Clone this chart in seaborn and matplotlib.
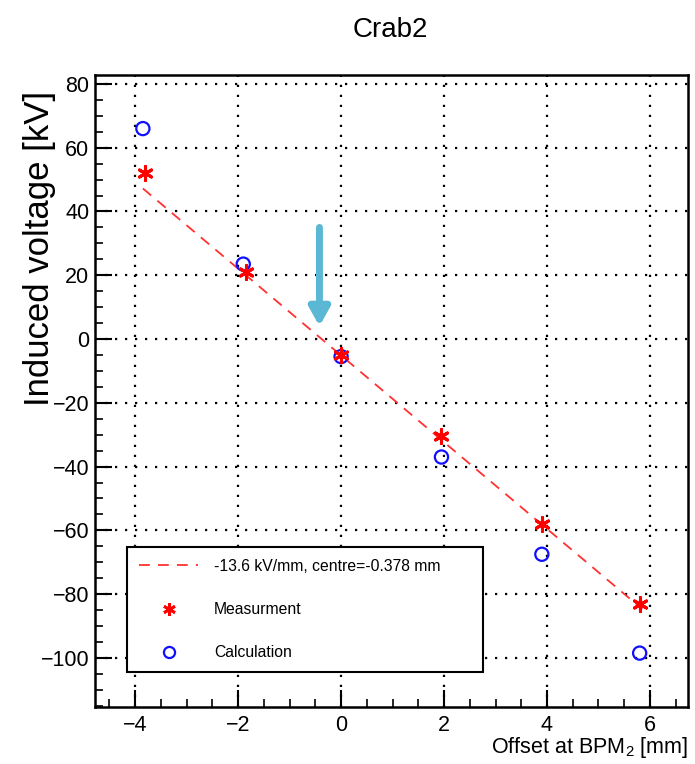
import numpy as np
import pandas as pd
import matplotlib
matplotlib.use("Agg")
import matplotlib.pyplot as plt
from matplotlib.lines import Line2D
from matplotlib.ticker import MultipleLocator
import seaborn as sns

# ---- data ----
meas_x = [-3.8, -1.85, 0.0, 1.95, 3.9, 5.8]
meas_y = [52.0, 21.0, -5.0, -30.5, -58.0, -83.0]
calc_x = [-3.85, -1.9, 0.0, 1.95, 3.9, 5.8]
calc_y = [66.0, 23.5, -5.5, -37.0, -67.5, -98.5]
fit_slope = -13.6    # kV/mm
fit_centre = -0.378  # mm
fit_label = "-13.6 kV/mm, centre=-0.378 mm"
arrow_x = -0.42
arrow_y_start = 35.0
arrow_y_end = 4.0
title = "Crab2"

sns.set_theme(style="white")
plt.rcParams["font.family"] = ["Liberation Sans", "DejaVu Sans"]
plt.rcParams["mathtext.fontset"] = "custom"
plt.rcParams["mathtext.rm"] = "Liberation Sans"
plt.rcParams["mathtext.it"] = "Liberation Sans"
for k in ["text.color", "axes.labelcolor", "xtick.color", "ytick.color"]:
    plt.rcParams[k] = "black"

fig = plt.figure(figsize=(6.95, 7.64), dpi=100)
ax = fig.add_axes([0.1367, 0.0746, 0.8533, 0.8272])

dash = (0, (6, 4.5))
fit_x = np.array([min(meas_x) - 0.05, max(meas_x) + 0.05])
fit_df = pd.DataFrame({"x": fit_x, "y": fit_slope * (fit_x - fit_centre)})
sns.lineplot(data=fit_df, x="x", y="y", ax=ax, color="#ff3030",
             linestyle=dash, linewidth=1.3, zorder=3)

sns.scatterplot(x=calc_x, y=calc_y, ax=ax, marker="o", s=90,
                facecolors="none", edgecolor="#1010ff", linewidth=1.6, zorder=4)
sns.scatterplot(x=meas_x, y=meas_y, ax=ax, marker=(6, 2, 0), s=100,
                color="#ff0000", edgecolor="#ff0000", linewidth=2.2, zorder=5)

ax.annotate("", xy=(arrow_x, arrow_y_end), xytext=(arrow_x, arrow_y_start),
            arrowprops=dict(arrowstyle="-|>,head_width=0.5,head_length=0.9",
                            color="#5bb8d4", lw=5, shrinkA=0, shrinkB=0), zorder=6)

ax.set_xlim(-4.78, 6.74)
ax.set_ylim(-115.4, 82.8)
ax.xaxis.set_major_locator(MultipleLocator(2))
ax.xaxis.set_minor_locator(MultipleLocator(0.5))
ax.yaxis.set_major_locator(MultipleLocator(20))
ax.yaxis.set_minor_locator(MultipleLocator(5))
ax.tick_params(which="major", direction="in", length=12, width=1.5,
               labelsize=15.5, color="black", pad=4)
ax.tick_params(axis="x", which="major", pad=6)
ax.tick_params(which="minor", direction="in", length=6, width=1.2, color="black")
ax.tick_params(axis="both", which="both", left=True, bottom=True, top=False, right=False)
ax.grid(True, which="major", color="black", linestyle=(0, (1, 3.5)), linewidth=1.6)
for sp in ax.spines.values():
    sp.set_visible(True)
    sp.set_color("black")
    sp.set_linewidth(1.8)

ax.set_ylabel("Induced voltage [kV]", fontsize=25)
ax.yaxis.set_label_coords(-0.066, 0.726)
ax.set_xlabel(r"Offset at BPM$_2$ [mm]", fontsize=15.5)
ax.xaxis.set_label_coords(1.0, -0.045)
ax.xaxis.label.set_horizontalalignment("right")
fig.text(0.561, 0.961, title, fontsize=20, ha="center", va="center")

handles = [
    Line2D([], [], color="#ff3030", linestyle=dash, linewidth=1.3),
    Line2D([], [], color="#ff0000", marker=(6, 2, 0), linestyle="none",
           markersize=9, markeredgewidth=2.0),
    Line2D([], [], color="#1010ff", marker="o", linestyle="none",
           markersize=8, markerfacecolor="none", markeredgewidth=1.6),
]
leg = ax.legend(handles, [fit_label, "Measurment", "Calculation"],
                loc="lower left", bbox_to_anchor=(0.054, 0.055, 0.6, 0.204),
                mode="expand", fontsize=11.3, frameon=True, fancybox=False,
                borderpad=0.75, labelspacing=1.8, handlelength=3.8,
                handletextpad=1.0, borderaxespad=0)
leg.get_frame().set_edgecolor("black")
leg.get_frame().set_linewidth(1.5)
leg.get_frame().set_alpha(1.0)
leg.set_zorder(10)

fig.savefig("out.png", dpi=100)
